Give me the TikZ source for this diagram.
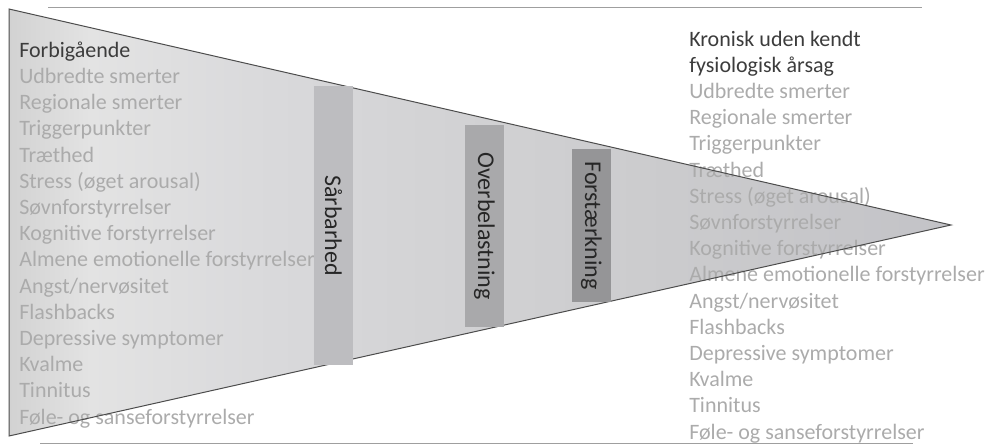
\documentclass[tikz,border=0pt]{standalone}
\usepackage{fontspec}
\setmainfont{Carlito}
\usepackage{tikz}

\definecolor{headtxt}{HTML}{3C3C3C}
\definecolor{itemtxt}{HTML}{ABABAB}
\definecolor{bartxt}{HTML}{262626}
\definecolor{barA}{HTML}{BDBDC0}
\definecolor{barB}{HTML}{A9A9AB}
\definecolor{barC}{HTML}{959597}
% funnel fill, light on the left, darker towards the tip
\definecolor{fa}{HTML}{D2D2D2}
\definecolor{fb}{HTML}{E3E3E3}
\definecolor{fc}{HTML}{DADADC}
\definecolor{fd}{HTML}{D4D4D6}
\definecolor{fe}{HTML}{CBCBCD}
\definecolor{ff}{HTML}{C3C3C7}
\pgfdeclarehorizontalshading{funnelfill}{100bp}{color(0bp)=(fa); color(25bp)=(fa);
  color(29.3bp)=(fb); color(37.8bp)=(fc); color(45.7bp)=(fd); color(60.1bp)=(fe);
  color(75bp)=(ff); color(100bp)=(ff)}

\begin{document}
\begin{tikzpicture}[x=0.75pt, y=-0.75pt,
    symptoms/.style={align=left, inner sep=0pt, anchor=base west, text=itemtxt,
      font=\fontsize{16.5}{19.65}\selectfont},
    phase/.style={rotate=-90, inner sep=0pt, minimum height=29.25pt, text=bartxt,
      font=\fontsize{18}{20}\selectfont},
    rule/.style={draw=gray!75, line width=0.75pt},
    funnel/.style={draw=black!70, line width=0.75pt}]
  \useasboundingbox (0,0) rectangle (989,446);

  % rules above and below
  \coordinate (r1a) at (48,7);
  \coordinate (r1b) at (922,7);
  \coordinate (r2a) at (40,443);
  \coordinate (r2b) at (913,443);
  \draw[rule] (r1a) -- (r1b);
  \draw[rule] (r2a) -- (r2b);

  % the funnel
  \coordinate (top) at (9,9);
  \coordinate (bot) at (9,436);
  \coordinate (tip) at (951,225);
  \shade[shading=funnelfill] (top) -- (tip) -- (bot) -- cycle;

  % symptom lists (placed by the baseline of their last line)
  \node[symptoms] (start) at (19,424) {\textcolor{headtxt}{Forbigående}\\
    Udbredte smerter\\
    Regionale smerter\\
    Triggerpunkter\\
    Træthed\\
    Stress (øget arousal)\\
    Søvnforstyrrelser\\
    Kognitive forstyrrelser\\
    Almene emotionelle forstyrrelser\\
    Angst/nervøsitet\\
    Flashbacks\\
    Depressive symptomer\\
    Kvalme\\
    Tinnitus\\
    Føle- og sanseforstyrrelser};
  \node[symptoms] (end) at (689,439) {\textcolor{headtxt}{Kronisk uden kendt}\\
    \textcolor{headtxt}{fysiologisk årsag}\\
    Udbredte smerter\\
    Regionale smerter\\
    Triggerpunkter\\
    Træthed\\
    Stress (øget arousal)\\
    Søvnforstyrrelser\\
    Kognitive forstyrrelser\\
    Almene emotionelle forstyrrelser\\
    Angst/nervøsitet\\
    Flashbacks\\
    Depressive symptomer\\
    Kvalme\\
    Tinnitus\\
    Føle- og sanseforstyrrelser};

  \draw[funnel] (top) -- (tip) -- (bot) -- cycle;

  % the three phases
  \node[phase, fill=barA, minimum width=209.25pt] (sar) at (333.5,225.5) {Sårbarhed};
  \node[phase, fill=barB, minimum width=151.5pt] (over) at (484.5,226) {Overbelastning};
  \node[phase, fill=barC, minimum width=114.75pt] (forst) at (591.5,225.5) {Forstærkning};
\end{tikzpicture}
\end{document}
